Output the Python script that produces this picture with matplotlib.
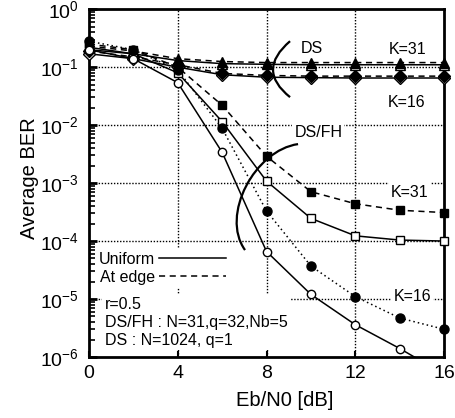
import numpy as np
import matplotlib
matplotlib.use("Agg")
import matplotlib.pyplot as plt
from matplotlib.lines import Line2D
from matplotlib.path import Path
from matplotlib.patches import PathPatch
from matplotlib.ticker import FixedLocator, NullFormatter

plt.rcParams['font.family'] = ['Liberation Sans', 'DejaVu Sans']
plt.rcParams['mathtext.fontset'] = 'custom'
plt.rcParams['mathtext.rm'] = 'Liberation Sans'
plt.rcParams['mathtext.it'] = 'Liberation Sans'
plt.rcParams['mathtext.default'] = 'regular'

ebn0 = [0, 2, 4, 6, 8, 10, 12, 14, 16]

dsfh_k31_uniform = [0.22, 0.17, 0.08, 1.15e-2, 1.08e-3, 2.46e-4, 1.23e-4, 1.04e-4, 1.0e-4]
dsfh_k31_edge = [0.25, 0.2, 0.1, 2.2e-2, 2.9e-3, 7.1e-4, 4.4e-4, 3.4e-4, 3.1e-4]
dsfh_k16_uniform = [0.2, 0.14, 0.054, 3.4e-3, 6.6e-5, 1.2e-5, 3.6e-6, 1.4e-6, 5e-7]
dsfh_k16_edge = [0.28, 0.2, 0.09, 8.8e-3, 3.3e-4, 3.7e-5, 1.1e-5, 4.7e-6, 3.0e-6]
ds_k31_uniform = [0.2, 0.17, 0.13, 0.115, 0.112, 0.11, 0.11, 0.11, 0.11]
ds_k31_edge = [0.23, 0.19, 0.14, 0.125, 0.12, 0.12, 0.12, 0.12, 0.12]
ds_k16_uniform = [0.17, 0.14, 0.1, 0.074, 0.067, 0.066, 0.065, 0.065, 0.065]
ds_k16_edge = [0.19, 0.15, 0.11, 0.078, 0.072, 0.07, 0.07, 0.07, 0.07]

xticks = [0, 4, 8, 12, 16]
yexps = [0, -1, -2, -3, -4, -5, -6]

fig = plt.figure(figsize=(4.56, 4.18), dpi=100)
ax = fig.add_axes([0.195, 0.146, 0.779, 0.832])
ax.set_yscale('log')
ax.set_xlim(0, 16)
ax.set_ylim(1e-6, 1)

# grid
for gx in [4, 8, 12]:
    ax.axvline(gx, color='black', lw=1.0, ls=(0, (1, 1.2)), zorder=1)
for gy in [1e-1, 1e-2, 1e-3, 1e-4, 1e-5]:
    ax.axhline(gy, color='black', lw=1.0, ls=(0, (1, 1.2)), zorder=1)

x = np.array(ebn0, dtype=float)

def series(vals, ls, marker, filled, ms):
    v = np.array(vals, dtype=float)
    ax.plot(x, v, color='black', lw=1.1, ls=ls, zorder=3)
    vm = np.where(v >= 1e-6, v, np.nan)
    ax.plot(x, vm, ls='none', marker=marker, ms=ms, mec='black', mew=1.0,
            mfc='black' if filled else 'white', clip_on=False, zorder=4)

dashed = (0, (4, 3))
dotted = (0, (1, 2))
series(ds_k31_uniform, '-', '^', False, 7.5)
series(ds_k31_edge, dashed, '^', True, 7.5)
series(ds_k16_uniform, '-', 'D', False, 6.5)
series(ds_k16_edge, dashed, 'D', True, 6.5)
series(dsfh_k31_uniform, '-', 's', False, 5.5)
series(dsfh_k31_edge, dashed, 's', True, 6)
series(dsfh_k16_uniform, '-', 'o', False, 6)
series(dsfh_k16_edge, dotted, 'o', True, 6.5)

# ticks
ax.set_xticks(xticks)
ax.set_xticklabels([str(t) for t in xticks])
ax.set_yticks([10.0 ** e for e in yexps])
ax.set_yticklabels([r'$10^{%d}$' % e for e in yexps])
minors = [m * 10.0 ** e for e in range(-6, 0) for m in range(2, 10)]
ax.yaxis.set_minor_locator(FixedLocator(minors))
ax.yaxis.set_minor_formatter(NullFormatter())
ax.tick_params(axis='x', which='major', direction='in', length=4, width=1.5,
               labelsize=14, pad=6)
ax.tick_params(axis='x', which='minor', bottom=False)
ax.tick_params(axis='y', which='major', direction='in', length=6, width=2,
               labelsize=14, pad=7)
ax.tick_params(axis='y', which='minor', direction='in', length=4, width=1.2)
for s in ax.spines.values():
    s.set_linewidth(2)

ax.set_xlabel('Eb/N0 [dB]', fontsize=14.5)
ax.xaxis.set_label_coords(0.551, -0.098)
ax.set_ylabel('Average BER', fontsize=14.5)
ax.yaxis.set_label_coords(-0.14, 0.514)

# annotations
tk = dict(fontsize=11.5, ha='center', va='center', zorder=5)
ax.text(10.05, 0.213, 'DS', **tk)
ax.text(14.33, 0.204, 'K=31', **tk)
ax.text(14.3, 0.025, 'K=16', **tk)
ax.text(10.33, 7.6e-3, 'DS/FH',
        bbox=dict(facecolor='white', edgecolor='none', pad=1.5), **tk)
ax.text(14.46, 7.0e-4, 'K=31',
        bbox=dict(facecolor='white', edgecolor='none', pad=1.5), **tk)
ax.text(14.57, 1.12e-5, 'K=16',
        bbox=dict(facecolor='white', edgecolor='none', pad=1.5), **tk)

# brackets (axes fraction)
def pf(px, py):
    return ((px - 89) / 355.0, (357 - py) / 348.0)

ds_br = Path([pf(290, 41), pf(256, 70), pf(290, 97)],
             [Path.MOVETO, Path.CURVE3, Path.CURVE3])
ax.add_patch(PathPatch(ds_br, fc='none', ec='black', lw=1.6,
                       transform=ax.transAxes, zorder=5))
fh_br = Path([pf(298, 144), pf(255, 150), pf(220, 215), pf(245, 250)],
             [Path.MOVETO, Path.CURVE4, Path.CURVE4, Path.CURVE4])
ax.add_patch(PathPatch(fh_br, fc='none', ec='black', lw=1.6,
                       transform=ax.transAxes, zorder=5))

# legend
handles = [Line2D([], [], color='black', lw=1.1, ls='-'),
           Line2D([], [], color='black', lw=1.1, ls=(0, (4, 3)))]
leg = ax.legend(handles, ['Uniform', 'At edge'], markerfirst=False,
                loc='upper left', bbox_to_anchor=(0.02, 0.312),
                frameon=True, fontsize=11.5, handlelength=4.2,
                handletextpad=0.2, labelspacing=0.2, borderpad=0.2,
                borderaxespad=0.0)
leg.get_frame().set_facecolor('white')
leg.get_frame().set_edgecolor('none')
leg.get_frame().set_alpha(1)
leg.set_zorder(6)

ax.text(0.045, 0.10, 'r=0.5\nDS/FH : N=31,q=32,Nb=5\nDS : N=1024, q=1',
        transform=ax.transAxes, fontsize=11.5, ha='left', va='center',
        linespacing=1.25, zorder=6,
        bbox=dict(facecolor='white', edgecolor='none', pad=2))

fig.savefig('out.png', dpi=100)
